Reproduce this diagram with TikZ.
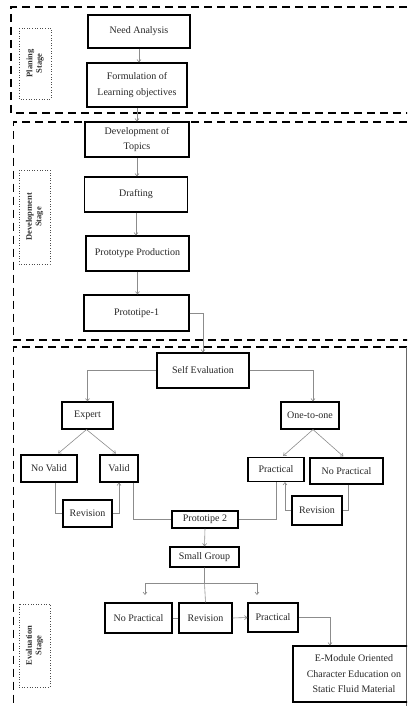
\documentclass[tikz,border=0pt]{standalone}
\usepackage{fontspec}
\setmainfont{Liberation Serif}
\usetikzlibrary{arrows.meta}
\tikzset{
  box/.style={draw=black, line width=1.1pt, align=center, inner sep=1pt,
    font=\fontsize{10}{15.5}\selectfont, text=black!85},
  stagelbl/.style={draw=black!70, dotted, line width=0.6pt, rotate=90, align=center,
    inner sep=1pt, font=\fontsize{8.5}{9.5}\selectfont\bfseries, text=black!80},
  frame/.style={draw=black, line width=1.4pt, dash pattern=on 8pt off 5pt},
  conn/.style={draw=black!45, line width=0.6pt},
  arr/.style={conn, -{Straight Barb[length=2.5pt,width=4pt]}},
}
\begin{document}
\begin{tikzpicture}[x=1pt,y=-1pt]
\useasboundingbox (0,0) rectangle (407,706);
\clip (0,0) rectangle (407,706);
% stage frames
\draw[frame] (420,7) -- (11,7) -- (11,113) -- (420,113);
\draw[frame] (420,122) -- (13.5,122) -- (13.5,340) -- (420,340);
\draw[frame] (420,347) -- (13.5,347) -- (13.5,715);
\draw[black!60, line width=0.6pt] (406,347) -- (406,715);
% stage labels
\node[stagelbl, minimum width=71pt, minimum height=32pt] (lplan) at (35,63.5) {Planing\\Stage};
\node[stagelbl, minimum width=94pt, minimum height=31pt] (ldev) at (34.5,217) {Development\\Stage};
\node[stagelbl, minimum width=83pt, minimum height=31pt] (leval) at (34.5,645.5) {Evaluation\\Stage};
% main column
\node[box, minimum width=102pt, minimum height=33pt] (need) at (139,31.5) {Need Analysis};
\node[box, minimum width=100pt, minimum height=44pt] (form) at (137,85) {Formulation of\\Learning objectives};
\node[box, minimum width=104pt, minimum height=35pt] (topics) at (137,139.5) {Development of\\Topics};
\node[box, minimum width=103pt, minimum height=35pt] (draft) at (136,194.5) {Drafting};
\node[box, minimum width=103pt, minimum height=35pt] (prod) at (137.5,253.5) {Prototype Production};
\node[box, minimum width=105pt, minimum height=36pt] (p1) at (136.5,313) {Prototipe-1};
\node[box, minimum width=92pt, minimum height=35pt] (self) at (203,370.5) {Self Evaluation};
% branches
\node[box, minimum width=51pt, minimum height=27pt] (expert) at (87.5,415.5) {Expert};
\node[box, minimum width=58pt, minimum height=27pt] (one) at (310,415.5) {One-to-one};
\node[box, minimum width=56pt, minimum height=27pt] (novalid) at (49,468.5) {No Valid};
\node[box, minimum width=38pt, minimum height=27pt] (valid) at (119,468.5) {Valid};
\node[box, minimum width=56pt, minimum height=24pt] (prac) at (276,469.5) {Practical};
\node[box, minimum width=73pt, minimum height=26pt] (nopr) at (346.5,471) {No Practical};
\node[box, minimum width=49pt, minimum height=27pt] (rev1) at (87.5,513.5) {Revision};
\node[box, minimum width=50pt, minimum height=29pt] (rev2) at (317,510.5) {Revision};
\node[box, minimum width=66pt, minimum height=17pt] (p2) at (205,519.5) {Prototipe 2};
\node[box, minimum width=69pt, minimum height=20pt] (sg) at (204.5,557) {Small Group};
\node[box, minimum width=67pt, minimum height=30pt] (nop2) at (138.5,618) {No Practical};
\node[box, minimum width=53pt, minimum height=30pt] (rev3) at (205.5,618) {Revision};
\node[box, minimum width=50pt, minimum height=29pt] (prac2) at (273,617.5) {Practical};
\node[box, minimum width=122pt, minimum height=56pt] (emod) at (354,674)
  {E-Module Oriented\\Character Education on\\Static Fluid Material};
% connectors: main column
\draw[arr] (need.south) -- (need.south |- form.north);
\draw[arr] (form.south) -- (form.south |- topics.north);
\draw[arr] (topics.south) -- (topics.south |- draft.north);
\draw[arr] (draft.south) -- (draft.south |- prod.north);
\draw[arr] (prod.south) -- (prod.south |- p1.north);
\draw[arr] (p1.east) -| (self.north);
\draw[arr] (self.west) -| (expert.north);
\draw[arr] (self.east) -| ([xshift=3pt]one.north);
% expert branch
\draw[arr, shorten >=1.5pt] ([xshift=-1pt]expert.south) -- ([xshift=8pt]novalid.north);
\draw[arr, shorten >=1.5pt] ([xshift=-1pt]expert.south) -- ([xshift=-2pt]valid.north);
\draw[conn] ([xshift=6pt]novalid.south) |- (rev1.west);
\draw[arr] (rev1.east) -| (valid.south);
\draw[conn] ([xshift=14pt]valid.south) |- (p2.west);
% one-to-one branch
\draw[arr, shorten >=1.5pt] ([xshift=3pt]one.south) -- ([xshift=6pt]prac.north);
\draw[arr, shorten >=1.5pt] ([xshift=3pt]one.south) -- ([xshift=-2pt]nopr.north);
\draw[conn] ([xshift=1.5pt]nopr.south) |- (rev2.east);
\draw[arr] (rev2.west) -| ([xshift=9pt]prac.south);
\draw[conn] (p2.east) -| (prac.south);
% small group
\draw[arr] (p2.south) -- (sg.north);
\coordinate (jn) at (204.5,583);
\coordinate (ta) at (145,595);
\coordinate (tb) at (257,595);
\draw[conn] (sg.south) -- (jn) -- (rev3.north);
\draw[arr] (jn) -| (ta);
\draw[arr] (jn) -| (tb);
\draw[conn] (nop2.east) -- (rev3.west);
\draw[arr] (rev3.east) -- (prac2.west);
\draw[arr] (prac2.east) -| ([xshift=-24pt]emod.north);
\end{tikzpicture}
\end{document}
